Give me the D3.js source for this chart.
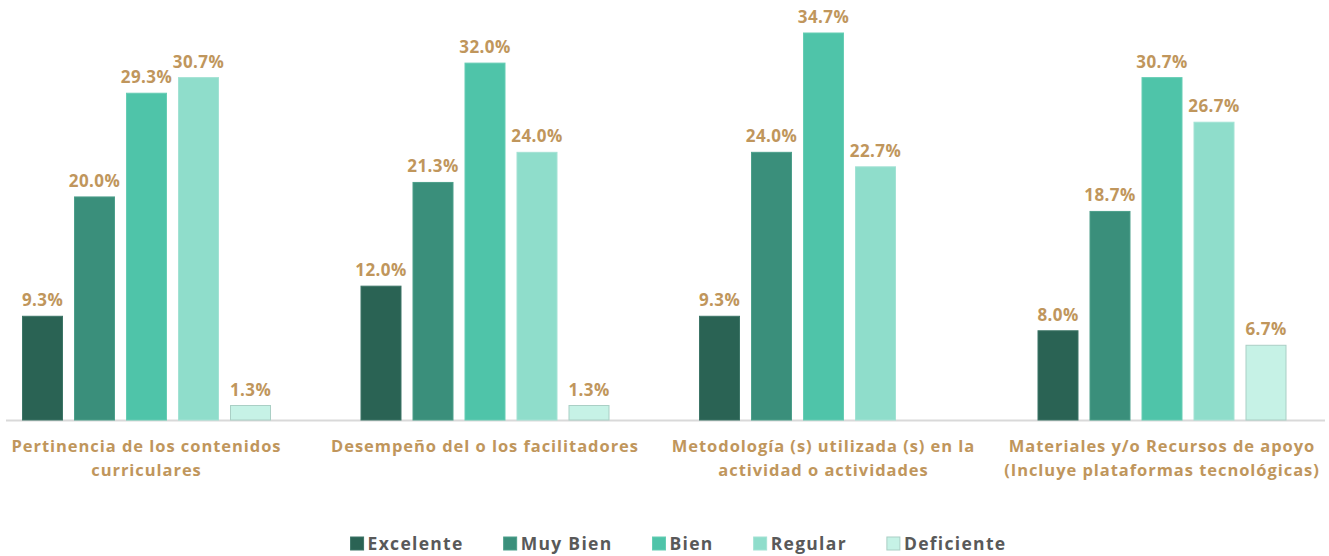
<!DOCTYPE html>
<html><head><meta charset="utf-8">
<script src="https://cdn.jsdelivr.net/npm/d3@7/dist/d3.min.js"></script>
<style>
html,body{margin:0;padding:0;background:#fff;}
svg{display:block;font-family:"Open Sans","DejaVu Sans",sans-serif;font-weight:700;}
</style></head>
<body>
<svg id="chart" width="1329" height="556"></svg>
<script>
const categories = [
  ["Pertinencia de los contenidos", "curriculares"],
  ["Desempeño del o los facilitadores"],
  ["Metodología (s) utilizada (s) en la", "actividad o actividades"],
  ["Materiales y/o Recursos de apoyo", "(Incluye plataformas tecnológicas)"]
];
const series = ["Excelente", "Muy Bien", "Bien", "Regular", "Deficiente"];
const excelente  = [9.3, 12.0, 9.3, 8.0];
const muyBien    = [20.0, 21.3, 24.0, 18.7];
const bien       = [29.3, 32.0, 34.7, 30.7];
const regular    = [30.7, 24.0, 22.7, 26.7];
const deficiente = [1.3, 1.3, 0, 6.7];
const values = [excelente, muyBien, bien, regular, deficiente];
const colors = ["#2A6354", "#3A8F7B", "#4FC4A9", "#8FDDCB", "#C6F2E6"];
const strokes = ["#3d7567", "#4d9f8b", "#66cdb4", "#a3e2d4", "#aacfc5"];

const svg = d3.select("#chart");
const catKeys = categories.map((c, i) => i);
const x0 = d3.scaleBand().domain(catKeys).range([-22.75, 1331.25]).paddingInner(0.2644).paddingOuter(0.1322);
const x1 = d3.scaleBand().domain(series).range([0, x0.bandwidth()]).paddingInner(11/52).paddingOuter(0);
const y = d3.scaleLinear().domain([0, 34.7]).range([420, 33]);

// baseline
svg.append("line").attr("x1", 6).attr("x2", 1325).attr("y1", y(0) + 0.5).attr("y2", y(0) + 0.5)
  .attr("stroke", "#d9d9d9").attr("stroke-width", 2);

const labelColor = "#C0965C";

catKeys.forEach(ci => {
  const g = svg.append("g").attr("transform", `translate(${x0(ci)},0)`);
  series.forEach((s, si) => {
    const v = values[si][ci];
    if (!v) return;
    g.append("rect")
      .attr("x", x1(s) + 0.5).attr("y", y(v))
      .attr("width", x1.bandwidth() - 1).attr("height", y(0) - y(v))
      .attr("fill", colors[si]).attr("stroke", strokes[si]).attr("stroke-width", 1);
    g.append("text")
      .attr("x", x1(s) + x1.bandwidth() / 2).attr("y", y(v) - 10)
      .attr("text-anchor", "middle").attr("fill", labelColor)
      .attr("font-size", 17).attr("letter-spacing", 0.4).text(v.toFixed(1) + "%");
  });
  const t = svg.append("text").attr("text-anchor", "middle").attr("fill", labelColor)
    .attr("font-size", 16.5).attr("letter-spacing", 0.95);
  categories[ci].forEach((line, li) => {
    t.append("tspan").attr("x", x0(ci) + x0.bandwidth() / 2).attr("y", 452 + li * 24).text(line);
  });
});

// legend
const leg = svg.append("g");
const items = [];
series.forEach((s, si) => {
  const it = leg.append("g");
  it.append("rect").attr("x", 0).attr("y", 537).attr("width", 13).attr("height", 13)
    .attr("fill", colors[si]).attr("stroke", strokes[si]);
  const tx = it.append("text").attr("x", 17).attr("y", 550).attr("fill", "#595959")
    .attr("font-size", 17.5).attr("letter-spacing", 1.3).text(s);
  items.push({g: it, w: 17 + tx.node().getComputedTextLength()});
});
const gap = 40;
const total = d3.sum(items, d => d.w) + gap * (items.length - 1);
let cx = 678.5 - total / 2;
items.forEach(d => { d.g.attr("transform", `translate(${cx},0)`); cx += d.w + gap; });
</script>
</body></html>
